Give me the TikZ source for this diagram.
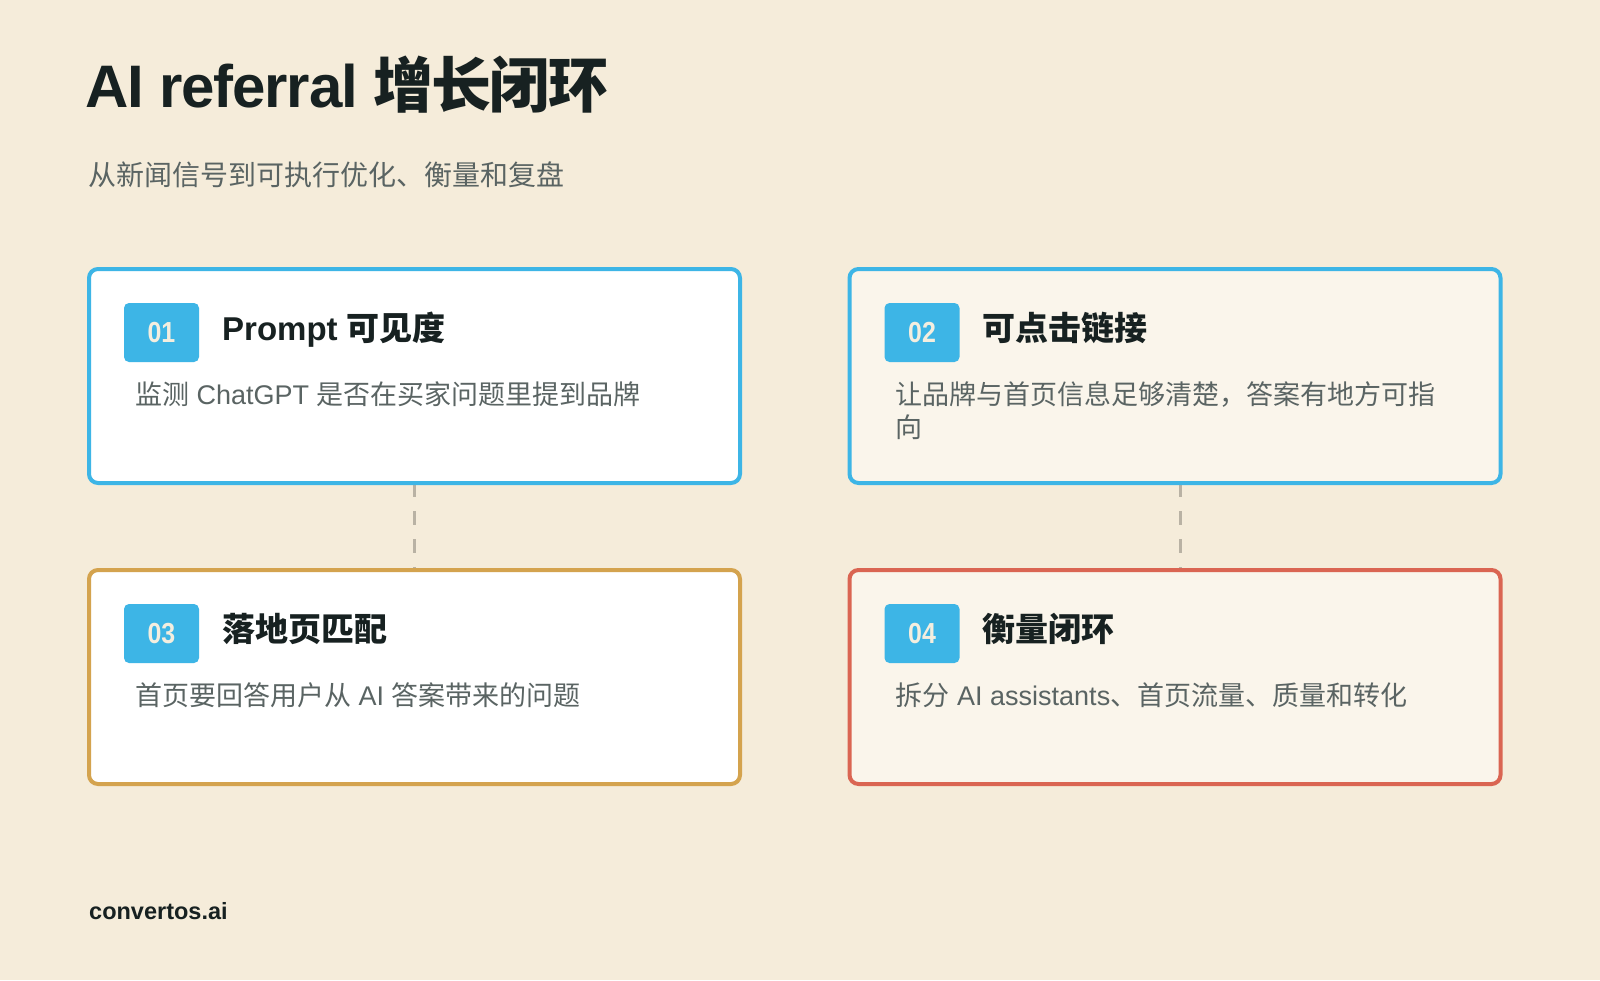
\documentclass[tikz,border=0pt]{standalone}
\usepackage{fontspec}
\setmainfont{Liberation Sans}
\newfontfamily\cjk{Noto Sans CJK SC}
\usetikzlibrary{backgrounds}
\definecolor{bgc}{HTML}{F5ECDA}
\definecolor{blueb}{HTML}{3DB5E6}
\definecolor{goldb}{HTML}{D4A34E}
\definecolor{redb}{HTML}{DA6552}
\definecolor{creamf}{HTML}{FAF5EB}
\definecolor{ink}{HTML}{172121}
\definecolor{muted}{HTML}{5A6463}
\definecolor{dashc}{HTML}{B9B2A4}
\definecolor{badgetxt}{HTML}{F4EEDF}
\begin{document}
\begin{tikzpicture}[x=1pt,y=-1pt,
 card/.style={draw,line width=4pt,rounded corners=9pt,minimum width=651pt,minimum height=214pt,inner sep=0pt,outer sep=0pt},
 badge/.style={fill=blueb,rounded corners=5pt,minimum width=75pt,minimum height=59pt,inner sep=0pt,text=badgetxt,font=\fontsize{29}{29}\selectfont\bfseries\addfontfeature{FakeStretch=0.86}},
 head/.style={anchor=base west,inner sep=0pt,text=ink,font=\fontsize{33}{33}\selectfont\bfseries},
 desc/.style={anchor=base west,inner sep=0pt,text=muted,font=\fontsize{27}{33}\selectfont},
 conn/.style={draw=dashc,line width=3pt,dash pattern=on 14pt off 14pt}]
\useasboundingbox (0,0) rectangle (1600,980);

\node[anchor=base west,inner sep=0pt,text=ink,font=\fontsize{60}{60}\selectfont\bfseries\addfontfeature{LetterSpace=-2}] (title) at (85,107) {AI referral {\cjk\addfontfeature{LetterSpace=-3}增长闭环}};
\node[anchor=base west,inner sep=0pt,text=muted,font=\fontsize{28}{28}\selectfont\cjk] (sub) at (88,185.5) {从新闻信号到可执行优化、衡量和复盘};

\node[card,draw=blueb,fill=white] (b1) at (414.5,376) {};
\node[card,draw=blueb,fill=creamf] (b2) at (1175,376) {};
\node[card,draw=goldb,fill=white] (b3) at (414.5,677) {};
\node[card,draw=redb,fill=creamf] (b4) at (1175,677) {};

\node[badge] (n1) at ([shift={(72.5,63.5)}]b1.north west) {01};
\node[head] (h1) at ([shift={(133,71)}]b1.north west) {Prompt {\cjk 可见度}};
\node[desc] (d1) at ([shift={(46,135)}]b1.north west) {{\cjk 监测} ChatGPT {\cjk 是否在买家问题里提到品牌}};

\node[badge] (n2) at ([shift={(72.5,63.5)}]b2.north west) {02};
\node[head] (h2) at ([shift={(133,71)}]b2.north west) {\cjk 可点击链接};
\node[desc] (d2) at ([shift={(46,135)}]b2.north west) {\vtop{\hbox{\cjk 让品牌与首页信息足够清楚，答案有地方可指}\hbox{\cjk 向}}};

\node[badge] (n3) at ([shift={(72.5,63.5)}]b3.north west) {03};
\node[head] (h3) at ([shift={(133,71)}]b3.north west) {\cjk 落地页匹配};
\node[desc] (d3) at ([shift={(46,135)}]b3.north west) {{\cjk 首页要回答用户从} AI {\cjk 答案带来的问题}};

\node[badge] (n4) at ([shift={(72.5,63.5)}]b4.north west) {04};
\node[head] (h4) at ([shift={(133,71)}]b4.north west) {\cjk 衡量闭环};
\node[desc] (d4) at ([shift={(46,135)}]b4.north west) {{\cjk 拆分} AI assistants{\cjk 、首页流量、质量和转化}};

\node[anchor=base west,inner sep=0pt,text=ink,font=\fontsize{23.5}{24}\selectfont\bfseries] (foot) at (89,919) {convertos.ai};

\begin{scope}[on background layer]
\fill[bgc] (0,0) rectangle (1600,980);
\draw[conn] (b1.south) -- (b3.north);
\draw[conn] ([xshift=5pt]b2.south) -- ([xshift=5pt]b4.north);
\end{scope}
\end{tikzpicture}
\end{document}
